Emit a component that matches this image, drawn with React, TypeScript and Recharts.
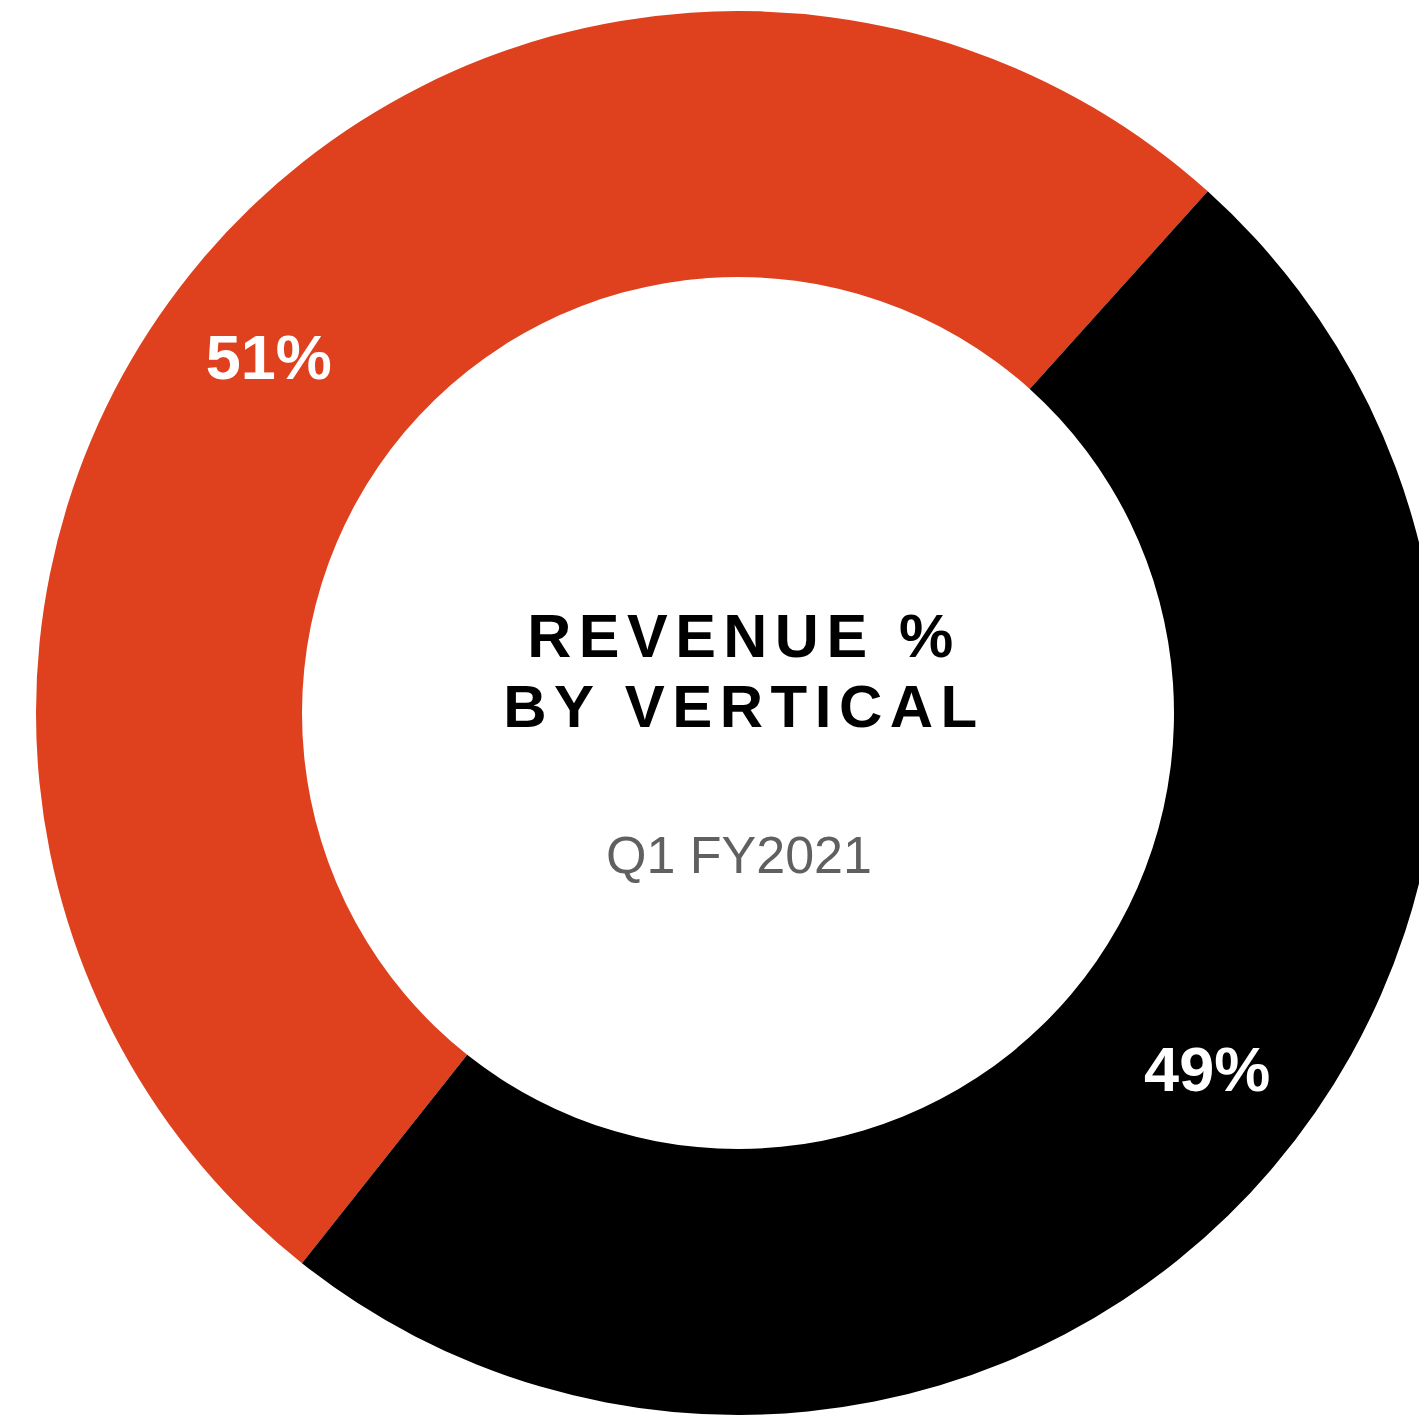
import { Cell, Pie, PieChart } from "recharts";

const verticals = ["Vertical A", "Vertical B"];
const revenueShare = [51, 49];
const sliceColors = ["#DF411E", "#000000"];
const titleLines = ["REVENUE %", "BY VERTICAL"];
const periodLabel = "Q1 FY2021";

const data = verticals.map((name, i) => ({ name, value: revenueShare[i] }));

const RADIAN = Math.PI / 180;
const FONT = "'Liberation Sans', Arial, Helvetica, sans-serif";

function renderPercent(props: any) {
  const { cx, cy, midAngle, value } = props;
  const r = 589;
  const a = (midAngle + 3) * RADIAN;
  const x = cx + r * Math.cos(a);
  const y = cy - r * Math.sin(a);
  return (
    <text
      x={x}
      y={y}
      fill="#ffffff"
      textAnchor="middle"
      dominantBaseline="central"
      fontFamily={FONT}
      fontWeight="bold"
      fontSize={63}
    >
      {`${value}%`}
    </text>
  );
}

export default function App() {
  return (
    <div style={{ width: 1419, height: 1418 }}>
      <style>{`body{margin:0;background:#fff}`}</style>
      <PieChart width={1419} height={1418} margin={{ top: 0, right: 0, bottom: 0, left: 0 }}>
        <Pie
          data={data}
          dataKey="value"
          nameKey="name"
          cx={738}
          cy={713}
          innerRadius={436}
          outerRadius={702}
          startAngle={48}
          endAngle={408}
          stroke="none"
          label={renderPercent}
          labelLine={false}
          isAnimationActive={false}
        >
          {data.map((d, i) => (
            <Cell key={d.name} fill={sliceColors[i]} />
          ))}
        </Pie>
        <text
          x={744}
          y={657}
          textAnchor="middle"
          fontFamily={FONT}
          fontWeight="bold"
          fontSize={61}
          letterSpacing={7.5}
          fill="#000"
        >
          {titleLines[0]}
        </text>
        <text
          x={744}
          y={727}
          textAnchor="middle"
          fontFamily={FONT}
          fontWeight="bold"
          fontSize={60}
          letterSpacing={7.5}
          fill="#000"
        >
          {titleLines[1]}
        </text>
        <text
          x={739}
          y={873}
          textAnchor="middle"
          fontFamily={FONT}
          fontSize={52}
          fill="#606060"
        >
          {periodLabel}
        </text>
      </PieChart>
    </div>
  );
}
